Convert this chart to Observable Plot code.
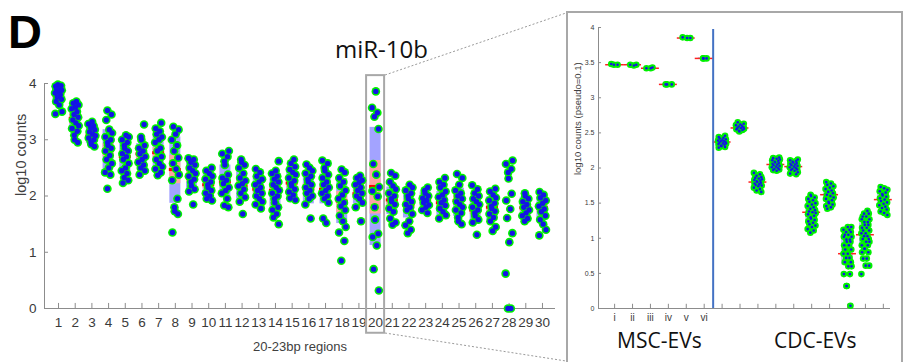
<!DOCTYPE html>
<html>
<head>
<meta charset="utf-8">
<script src="https://cdn.jsdelivr.net/npm/d3@7"></script>
<script src="https://cdn.jsdelivr.net/npm/@observablehq/plot@0.6"></script>
<style>
  body { margin: 0; background: #fff; }
  #wrap { position: relative; width: 903px; height: 362px; overflow: hidden; background: #fff; font-family: "Liberation Sans", Arial, sans-serif; }
  #left { position: absolute; left: 0; top: 0; }
  #right { position: absolute; left: 566px; top: 12px; }
  #frame { position: absolute; left: 566px; top: 11px; width: 333px; height: 360px; border: 2px solid #a8a8a8; border-bottom: none; pointer-events: none; }
  #overlay { position: absolute; left: 0; top: 0; pointer-events: none; }
</style>
</head>
<body>
<div id="wrap">
  <div id="left"></div>
  <div id="right"></div>
  <div id="frame"></div>
  <svg id="overlay" width="903" height="362">
    <text x="8" y="48" font-family="Liberation Sans, Arial, sans-serif" font-weight="bold" font-size="47" fill="#000">D</text>
    <line x1="385" y1="75" x2="566" y2="13" stroke="#9a9a9a" stroke-width="1" stroke-dasharray="2,2"/>
    <line x1="385" y1="333" x2="566" y2="361" stroke="#9a9a9a" stroke-width="1" stroke-dasharray="2,2"/>
  </svg>
</div>
<script>
// ---------- Left panel data: 20-23bp regions ----------
const regions = [1,2,3,4,5,6,7,8,9,10,11,12,13,14,15,16,17,18,19,20,21,22,23,24,25,26,27,28,29,30];
const regionMeans = [3.80,3.38,3.07,2.82,2.70,2.75,2.77,2.47,2.35,2.20,2.25,2.18,2.12,2.10,2.23,2.13,2.12,1.91,2.04,2.17,1.93,1.84,1.95,1.88,1.92,1.75,1.80,null,1.79,1.79];
const regionSdLo  = [3.62,3.17,2.93,2.48,2.42,2.52,2.42,1.87,2.10,2.00,1.98,1.95,1.97,1.80,2.05,1.86,1.86,1.51,1.86,1.12,1.67,1.61,1.77,1.65,1.64,1.55,1.56,null,1.62,1.57];
const regionSdHi  = [3.95,3.60,3.22,3.18,2.95,2.93,3.07,3.05,2.62,2.40,2.55,2.43,2.32,2.40,2.45,2.39,2.39,2.31,2.21,3.22,2.16,2.08,2.07,2.08,2.14,1.98,1.99,null,1.98,1.97];
const regionCiLo  = [3.74,3.28,3.00,2.70,2.60,2.66,2.68,2.22,2.25,2.13,2.15,2.10,2.05,2.00,2.15,2.04,2.03,1.70,1.97,1.68,1.84,1.75,1.89,1.80,1.83,1.67,1.72,null,1.72,1.71];
const regionCiHi  = [3.86,3.48,3.14,2.93,2.80,2.84,2.86,2.72,2.45,2.27,2.35,2.27,2.20,2.20,2.31,2.22,2.21,2.08,2.11,2.63,2.03,1.93,2.01,1.96,2.01,1.83,1.88,null,1.86,1.87];
const regionCounts = [
  [3.98,3.96,3.95,3.93,3.90,3.88,3.85,3.83,3.80,3.76,3.72,3.68,3.62,3.50,3.46],
  [3.68,3.65,3.62,3.58,3.55,3.50,3.45,3.40,3.35,3.30,3.25,3.20,3.15,3.08,3.00,2.95],
  [3.32,3.28,3.25,3.22,3.18,3.14,3.10,3.07,3.03,3.00,2.96,2.92,2.88],
  [3.52,3.45,3.35,3.18,3.12,3.05,3.00,2.95,2.90,2.85,2.80,2.72,2.65,2.58,2.50,2.42,2.38,2.13],
  [3.08,3.05,3.00,2.95,2.90,2.85,2.80,2.75,2.70,2.65,2.58,2.50,2.45,2.40,2.33,2.28,2.23],
  [3.27,3.05,3.00,2.90,2.85,2.80,2.75,2.70,2.65,2.60,2.55,2.50,2.45,2.38],
  [3.30,3.20,3.15,3.10,3.05,3.00,2.95,2.85,2.80,2.70,2.65,2.58,2.52,2.48,2.42,2.37],
  [3.23,3.18,3.10,3.00,2.90,2.80,2.68,2.58,2.48,2.38,2.28,1.95,1.80,1.73,1.68,1.35],
  [2.67,2.65,2.60,2.55,2.50,2.45,2.40,2.35,2.30,2.25,2.18,2.12,2.08,1.85],
  [2.50,2.45,2.40,2.35,2.30,2.25,2.20,2.15,2.10,2.05,2.00,1.95,1.92],
  [2.80,2.75,2.70,2.62,2.55,2.38,2.32,2.28,2.22,2.15,2.10,2.05,1.95,1.83,1.80],
  [2.65,2.60,2.55,2.50,2.40,2.32,2.27,2.22,2.18,2.12,2.05,1.98,1.90,1.68],
  [2.48,2.42,2.35,2.30,2.25,2.20,2.15,2.10,2.05,2.00,1.95,1.90,1.85,1.78],
  [2.62,2.45,2.40,2.35,2.30,2.25,2.20,2.15,2.10,2.05,2.00,1.95,1.88,1.80,1.75,1.68,1.62,1.50],
  [2.65,2.58,2.52,2.47,2.42,2.38,2.32,2.27,2.22,2.18,2.12,2.07,2.02,1.96,1.93],
  [2.56,2.50,2.45,2.40,2.35,2.30,2.25,2.20,2.15,2.10,2.05,2.00,1.95,1.85,1.60],
  [2.63,2.58,2.50,2.45,2.38,2.32,2.25,2.20,2.15,2.10,2.05,2.00,1.95,1.88,1.60,1.52],
  [2.47,2.42,2.32,2.25,2.18,2.10,2.02,1.95,1.88,1.82,1.75,1.65,1.55,1.45,1.35,1.20,0.85],
  [2.36,2.32,2.28,2.24,2.20,2.15,2.10,2.05,2.00,1.95,1.88,1.80,1.55],
  [3.86,3.57,3.48,3.41,3.19,2.57,2.38,2.16,2.09,1.99,1.80,1.58,1.33,1.27,1.12,0.70,0.32],
  [2.41,2.36,2.25,2.18,2.12,2.05,2.00,1.95,1.90,1.85,1.78,1.72,1.60,1.53,1.49],
  [2.20,2.15,2.10,2.05,2.00,1.95,1.90,1.85,1.80,1.75,1.68,1.55,1.48,1.40,1.34],
  [2.15,2.10,2.05,2.00,1.96,1.92,1.88,1.84,1.80,1.75,1.70],
  [2.32,2.25,2.20,2.15,2.08,2.02,1.98,1.93,1.88,1.83,1.78,1.72,1.66,1.60],
  [2.39,2.32,2.20,2.10,2.05,2.00,1.95,1.90,1.85,1.80,1.75,1.70,1.62,1.55,1.50],
  [2.19,2.12,2.05,2.00,1.95,1.90,1.85,1.80,1.75,1.70,1.65,1.58,1.53,1.31],
  [2.13,2.08,2.02,1.97,1.92,1.87,1.82,1.78,1.73,1.68,1.62,1.55,1.45,1.38],
  [2.63,2.57,2.48,2.42,2.31,2.04,1.92,1.77,1.61,1.34,1.18,0.62,0,0],
  [2.05,2.00,1.95,1.90,1.85,1.80,1.75,1.70,1.65,1.60,1.55],
  [2.07,2.02,1.97,1.92,1.87,1.82,1.77,1.72,1.65,1.58,1.50,1.40,1.30]
];
const leftYTicks = [0, 1, 2, 3, 4];
const leftXTitle = "20-23bp regions";
const leftYTitle = "log10 counts";
const highlightRegion = 20;
const highlightLabel = "miR-10b";

// ---------- Right panel data: samples ----------
const samples = [1,2,3,4,5,6,7,8,9,10,11,12,13,14,15,16];
const sampleLabels = ["i","ii","iii","iv","v","vi","","","","","","","","","",""];
const sampleMeans = [3.47,3.47,3.42,3.19,3.85,3.56,2.37,2.57,1.80,2.05,2.02,1.37,1.62,0.78,1.05,1.55];
const sampleSdLo  = [3.46,3.46,3.41,3.18,3.84,3.55,2.33,2.54,1.74,2.00,1.96,1.25,1.53,0.62,0.90,1.45];
const sampleSdHi  = [3.48,3.48,3.43,3.20,3.86,3.57,2.42,2.61,1.87,2.10,2.08,1.50,1.72,0.98,1.22,1.66];
const samplePoints = [
  [3.47,3.47,3.48],
  [3.46,3.47,3.47],
  [3.42,3.42,3.43],
  [3.19,3.19,3.19],
  [3.85,3.85,3.86],
  [3.56,3.56,3.56],
  [2.46,2.44,2.43,2.42,2.41,2.40,2.39,2.38,2.38,2.37,2.36,2.35,2.35,2.34,2.33,2.32,2.31,2.30,2.29],
  [2.65,2.63,2.62,2.61,2.60,2.59,2.58,2.57,2.57,2.56,2.55,2.54,2.53,2.52],
  [1.93,1.91,1.89,1.87,1.86,1.85,1.84,1.83,1.82,1.81,1.80,1.79,1.78,1.77,1.76,1.75,1.74,1.72,1.70,1.68,1.66],
  [2.15,2.14,2.13,2.12,2.11,2.10,2.09,2.08,2.07,2.06,2.05,2.04,2.03,2.02,2.01,2.00,1.99,1.98,1.97,1.96],
  [2.12,2.11,2.10,2.09,2.08,2.07,2.06,2.05,2.04,2.03,2.02,2.01,2.00,1.99,1.98,1.97,1.96,1.94,1.92,1.91],
  [1.62,1.60,1.58,1.56,1.54,1.52,1.50,1.48,1.46,1.44,1.42,1.40,1.38,1.37,1.36,1.34,1.32,1.30,1.28,1.26,1.24,1.22,1.20,1.18,1.16,1.13,1.11,1.08],
  [1.80,1.78,1.76,1.74,1.72,1.70,1.68,1.66,1.64,1.62,1.60,1.58,1.56,1.54,1.52,1.50,1.48,1.46,1.44,1.42],
  [1.16,1.16,1.12,1.12,1.09,1.09,1.05,1.05,1.02,1.02,0.98,0.98,0.95,0.95,0.90,0.90,0.84,0.84,0.78,0.78,0.72,0.72,0.66,0.66,0.60,0.60,0.49,0.49,0.32,0.32,0.04],
  [1.39,1.35,1.35,1.31,1.31,1.27,1.27,1.23,1.23,1.19,1.19,1.15,1.15,1.11,1.11,1.07,1.07,1.03,1.03,0.99,0.99,0.95,0.95,0.90,0.90,0.85,0.85,0.80,0.80,0.71,0.71,0.61,0.61,0.49],
  [1.73,1.71,1.69,1.67,1.65,1.63,1.61,1.59,1.57,1.55,1.53,1.51,1.49,1.47,1.45,1.43,1.41,1.38,1.36,1.33]
];
const rightYTicks = [0, 0.5, 1, 1.5, 2, 2.5, 3, 3.5, 4];
const rightYTitle = "log10 counts (pseudo=0.1)";
const groupLabels = ["MSC-EVs", "CDC-EVs"];

// ---------- layout helpers (not data) ----------
const jit = [-0.05, 0.22, -0.25, 0.1, -0.17, 0.28, 0.02, -0.3, 0.15, -0.1, 0.25, -0.2, 0.06, 0.3, -0.27, 0.18, -0.08];

const boxRows = regions.map((r, i) => ({r, mean: regionMeans[i], sdLo: regionSdLo[i], sdHi: regionSdHi[i], ciLo: regionCiLo[i], ciHi: regionCiHi[i]}))
  .filter(d => d.mean != null);
const leftPts = regions.flatMap((r, i) => regionCounts[i].map((v, j) => ({x: r + 0.7 * jit[(j + i * 3) % jit.length], y: v})));

const X0 = 0.16, X1 = 30.78;
const axisGray = "#8c8c8c";
const font = "Liberation Sans, Arial, sans-serif";

const left = Plot.plot({
  width: 565, height: 362,
  marginLeft: 44, marginRight: 10, marginTop: 83, marginBottom: 54,
  x: {domain: [X0, X1]},
  y: {domain: [0, 4]},
  style: {fontFamily: font, color: "#3a3a3a", background: "transparent", overflow: "visible"},
  marks: [
    Plot.rect(boxRows, {x1: d => d.r - 0.33, x2: d => d.r + 0.33, y1: "sdLo", y2: "sdHi", fill: "#a3a3ff"}),
    Plot.rect(boxRows, {x1: d => d.r - 0.33, x2: d => d.r + 0.33, y1: "ciLo", y2: "ciHi", fill: "#ffa3a3"}),
    Plot.ruleY(boxRows, {y: "mean", x1: d => d.r - 0.36, x2: d => d.r + 0.36, stroke: "#ff0000", strokeWidth: 3}),
    Plot.ruleY([0], {x1: X0, x2: X1, stroke: axisGray}),
    Plot.ruleX([X0], {y1: 0, y2: 4, stroke: axisGray}),
    Plot.ruleX(regions, {x: d => d, y1: 0, y2: 0.09, stroke: axisGray}),
    Plot.ruleY(leftYTicks, {y: d => d, x1: X0, x2: X0 + 0.24, stroke: axisGray}),
    Plot.axisX(regions, {tickSize: 0, tickPadding: 9, fontSize: 13.5, label: null}),
    Plot.axisY(leftYTicks, {tickSize: 0, tickPadding: 8, fontSize: 13.5, tickFormat: d => String(d), label: null}),
    Plot.text([leftXTitle], {frameAnchor: "bottom", lineAnchor: "middle", dy: 38, fontSize: 13, fill: "#404040"}),
    Plot.text([leftYTitle], {frameAnchor: "left", dx: -23, rotate: -90, fontSize: 14.5, fill: "#404040"}),
    Plot.rect([highlightRegion], {x1: d => d - 0.54, x2: d => d + 0.54, y1: -0.44, y2: 4.14, fill: "none", stroke: "#a8a8a8", strokeWidth: 2}),
    Plot.dot(leftPts, {x: "x", y: "y", r: 4.3, fill: "#00f000"}),
    Plot.dot(leftPts, {x: "x", y: "y", r: 2.7, fill: "#1414e6"}),
    Plot.text([highlightLabel], {x: highlightRegion + 0.35, y: 4.59, fontSize: 24, fontFamily: "Open Sans", fill: "#111"})
  ]
});
document.getElementById("left").appendChild(left);

// ---------- right panel ----------
const sRows = samples.map((s, i) => ({s, mean: sampleMeans[i], lo: sampleSdLo[i], hi: sampleSdHi[i]}));
const rightPts = samples.flatMap((s, i) => samplePoints[i].map((v, j) => ({x: s + 0.75 * jit[(j + i * 3) % jit.length], y: v})));
const RX0 = 0.1, RX1 = 16.4;

const right = Plot.plot({
  width: 336, height: 350,
  marginLeft: 32, marginRight: 12, marginTop: 15, marginBottom: 54,
  x: {domain: [RX0, RX1]},
  y: {domain: [0, 4]},
  style: {fontFamily: font, color: "#3a3a3a", background: "transparent", overflow: "visible"},
  marks: [
    Plot.rect(sRows, {x1: d => d.s - 0.33, x2: d => d.s + 0.33, y1: "lo", y2: "hi", fill: "#b9bff2"}),
    Plot.ruleY(sRows, {y: "mean", x1: d => d.s - 0.5, x2: d => d.s + 0.5, stroke: "#ff2020", strokeWidth: 1.5}),
    Plot.ruleY([0], {x1: RX0, x2: RX1, stroke: axisGray}),
    Plot.ruleX([RX0], {y1: 0, y2: 4, stroke: axisGray}),
    Plot.ruleX(samples, {x: d => d, y1: 0, y2: 0.06, stroke: axisGray}),
    Plot.ruleY(rightYTicks, {y: d => d, x1: RX0, x2: RX0 + 0.17, stroke: axisGray}),
    Plot.ruleX([6.5], {y1: 0, y2: 3.97, stroke: "#4472c4", strokeWidth: 2}),
    Plot.axisX(samples, {tickSize: 0, tickPadding: 5, fontSize: 10, tickFormat: d => sampleLabels[d - 1], label: null}),
    Plot.axisY(rightYTicks, {tickSize: 0, tickPadding: 4, fontSize: 7, tickFormat: d => String(d), label: null}),
    Plot.text([rightYTitle], {frameAnchor: "left", y: 1.9, dx: -21, rotate: -90, fontSize: 9.5, fill: "#404040"}),
    Plot.dot(rightPts, {x: "x", y: "y", r: 3.3, fill: "#00f000"}),
    Plot.dot(rightPts, {x: "x", y: "y", r: 1.3, fill: "#1414e6"}),
    Plot.text(groupLabels, {x: (d, i) => [3.5, 12.2][i], frameAnchor: "bottom", lineAnchor: "middle", dy: 33, fontSize: 21, fontFamily: "Open Sans", fill: "#111"})
  ]
});
document.getElementById("right").appendChild(right);
</script>
</body>
</html>
